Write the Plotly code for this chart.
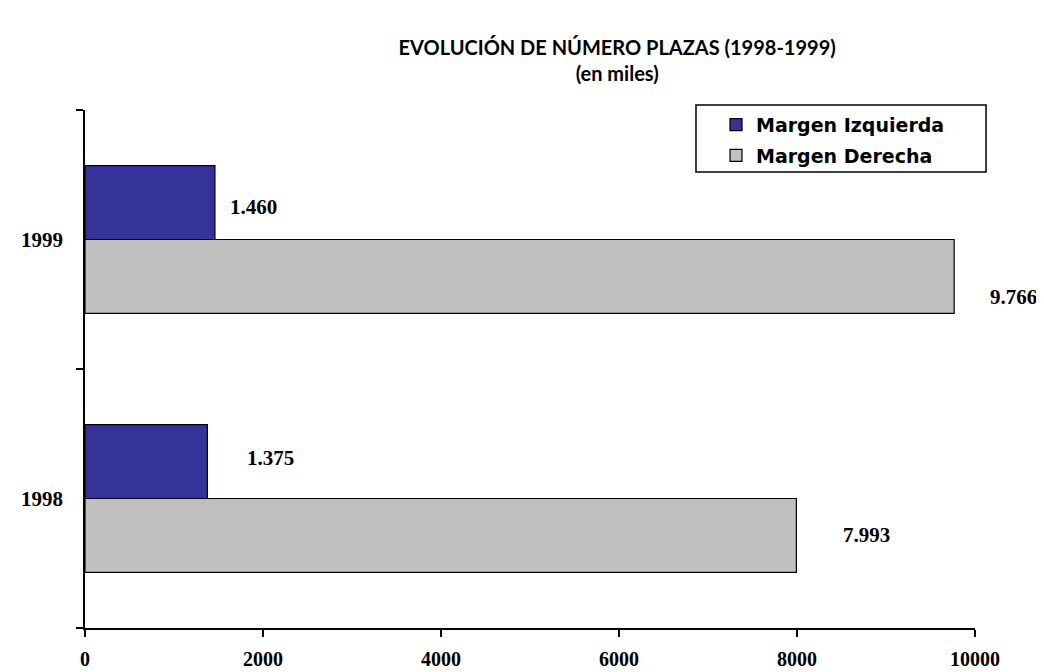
import plotly.graph_objects as go

# ---- data ----
years = ["1998", "1999"]
margen_izquierda = [1375, 1460]
margen_derecha = [7993, 9766]
series_names = ["Margen Izquierda", "Margen Derecha"]
x_ticks = [0, 2000, 4000, 6000, 8000, 10000]

# label placement (pixel offsets, styling only)
izq_label_shift = [(63, 41), (39, 33)]
der_label_shift = [(70, -36), (59, -57)]

def fmt(v):
    return f"{v:,}".replace(",", ".")

BLUE = "#333399"
GRAY = "#C0C0C0"

fig = go.Figure()
# Gray first so that it sits below the blue bar in each group
fig.add_trace(go.Bar(
    y=years, x=margen_derecha, name=series_names[1], orientation="h",
    marker=dict(color=GRAY, line=dict(color="black", width=1.2)),
    legendrank=2, legendgroup="b",
))
fig.add_trace(go.Bar(
    y=years, x=margen_izquierda, name=series_names[0], orientation="h",
    marker=dict(color=BLUE, line=dict(color="black", width=1.2)),
    legendrank=1, legendgroup="a",
))

annotations = []
lab_font = dict(family="Liberation Serif", size=21, color="black", weight="bold")
for i, y in enumerate(years):
    dx, dy = izq_label_shift[i]
    annotations.append(dict(
        x=margen_izquierda[i], y=i, xref="x", yref="y",
        text=fmt(margen_izquierda[i]), showarrow=False,
        xanchor="center", yanchor="middle", font=lab_font,
        xshift=dx, yshift=dy,
    ))
    dx, dy = der_label_shift[i]
    annotations.append(dict(
        x=margen_derecha[i], y=i, xref="x", yref="y",
        text=fmt(margen_derecha[i]), showarrow=False,
        xanchor="center", yanchor="middle", font=lab_font,
        xshift=dx, yshift=dy,
    ))

fig.update_layout(
    width=1036, height=664,
    paper_bgcolor="white", plot_bgcolor="white",
    margin=dict(l=77, r=69, t=102, b=44, autoexpand=False),
    barmode="group", bargap=0.43, bargroupgap=0,
    title=dict(
        text="<b>EVOLUCIÓN DE NÚMERO PLAZAS (1998-1999)<br>(en miles)</b>",
        x=0.588, xanchor="center", y=0.929, yanchor="top",
        font=dict(family="Lato", size=20, color="black"),
    ),
    showlegend=True,
    legend=dict(
        x=0.709, xanchor="left", y=1.008, yanchor="top",
        xref="paper", yref="paper",
        bgcolor="rgba(0,0,0,0)", borderwidth=0,
        font=dict(family="DejaVu Sans", size=19, color="black", weight="bold"),
        itemwidth=30, traceorder="grouped", tracegroupgap=3,
    ),
    shapes=[dict(
        type="rect", xref="paper", yref="paper",
        x0=0.6865, x1=1.0124, y0=0.8803, y1=1.0097,
        line=dict(color="black", width=1.5), fillcolor="rgba(0,0,0,0)",
        layer="above",
    )],
    annotations=annotations,
)
fig.update_xaxes(
    range=[0, 10000], tickvals=x_ticks, ticktext=[str(t) for t in x_ticks],
    showline=True, linecolor="black", linewidth=1.5,
    ticks="outside", ticklen=7, tickcolor="black", tickwidth=1.5,
    showgrid=False, zeroline=False, automargin=False,
    tickfont=dict(family="Liberation Serif", size=20, color="black", weight="bold"),
    ticklabelstandoff=5,
)
fig.update_yaxes(
    type="category", categoryorder="array", categoryarray=years,
    range=[-0.5, 1.5],
    showline=True, linecolor="black", linewidth=1.5,
    ticks="outside", ticklen=7, tickcolor="black", tickwidth=1.5,
    tickson="boundaries",
    showgrid=False, zeroline=False, automargin=False,
    tickfont=dict(family="Liberation Serif", size=21, color="black", weight="bold"),
    ticklabelstandoff=16,
)

fig.write_html("out.html")
